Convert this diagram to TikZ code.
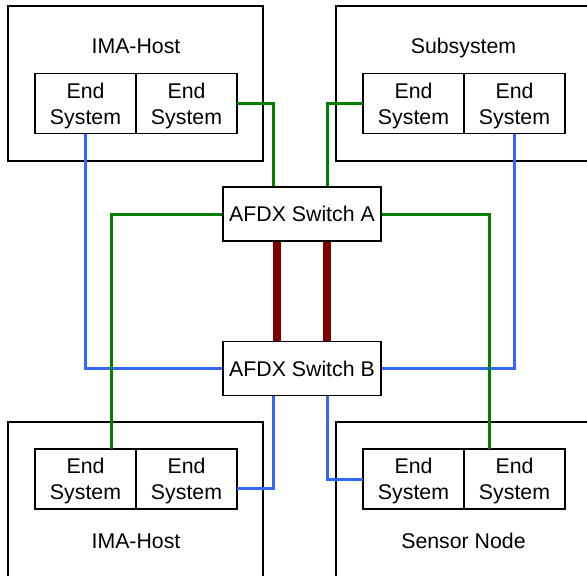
\documentclass[tikz,border=0pt]{standalone}
\usepackage{fontspec}
\setmainfont{Liberation Sans}
\usetikzlibrary{positioning,calc}
\definecolor{netgreen}{HTML}{008000}
\definecolor{netblue}{HTML}{3366FF}
\definecolor{trunkred}{HTML}{800000}

\begin{document}
\begin{tikzpicture}[x=1pt,y=-1pt,
    font=\fontsize{21.3}{26}\selectfont,
    host/.style={draw,line width=1.5pt,minimum width=255pt,minimum height=155pt,inner sep=0pt},
    endsys/.style={draw,line width=1.5pt,minimum width=101pt,minimum height=60pt,inner sep=0pt,outer sep=0pt,align=center,text depth=0pt},
    switch/.style={draw,line width=1.5pt,fill=white,minimum width=158pt,minimum height=54pt,inner sep=0pt},
    hostlabel/.style={anchor=base,inner sep=0pt},
    linkA/.style={draw=netgreen,line width=3pt},
    linkB/.style={draw=netblue,line width=3pt},
    trunk/.style={draw=trunkred,line width=8pt}]
    \clip (0,0) rectangle (587,576);

    % Hosts
    \node[host] (hostTL) at (135.5,83.5) {};
    \node[host] (hostTR) at (463.5,83.5) {};
    \node[host] (hostBL) at (135.5,499.5) {};
    \node[host] (hostBR) at (463.5,499.5) {};
    \node[hostlabel] (nameTL) at (136,53) {IMA-Host};
    \node[hostlabel] (nameTR) at (463.5,53) {Subsystem};
    \node[hostlabel] (nameBL) at (136,548) {IMA-Host};
    \node[hostlabel] (nameBR) at (463.5,548) {Sensor Node};

    % End systems
    \node[endsys] (esTL1) at (85.5,103.5) {End\\System};
    \node[endsys] (esTL2) [right=0pt of esTL1] {End\\System};
    \node[endsys] (esTR1) at (413.5,103.5) {End\\System};
    \node[endsys] (esTR2) [right=0pt of esTR1] {End\\System};
    \node[endsys] (esBL1) at (85.5,479) {End\\System};
    \node[endsys] (esBL2) [right=0pt of esBL1] {End\\System};
    \node[endsys] (esBR1) at (413.5,479) {End\\System};
    \node[endsys] (esBR2) [right=0pt of esBR1] {End\\System};

    % Switches
    \node[switch] (swA) at (302,214) {AFDX Switch A};
    \node[switch] (swB) at (302,368.5) {AFDX Switch B};

    % Network B
    \draw[linkB] (esTL1.south) |- (swB.west);
    \draw[linkB] (swB.east) -| (esTR2.south);
    \draw[linkB] ([xshift=-29pt]swB.south) |- ([yshift=-9pt]esBL2.east);
    \draw[linkB] ([xshift=25pt]swB.south) |- (esBR1.west);

    % Network A
    \draw[linkA] (esTL2.east) -| ([xshift=-29pt]swA.north);
    \draw[linkA] (esTR1.west) -| ([xshift=25pt]swA.north);
    \draw[linkA] (swA.west) -| ([xshift=26pt]esBL1.north);
    \draw[linkA] (swA.east) -| ([xshift=-25pt]esBR2.north);

    % Links between switches
    \draw[trunk] ([xshift=-25pt]swA.south) -- ([xshift=-25pt]swB.north);
    \draw[trunk] ([xshift=25pt]swA.south) -- ([xshift=25pt]swB.north);
\end{tikzpicture}
\end{document}
